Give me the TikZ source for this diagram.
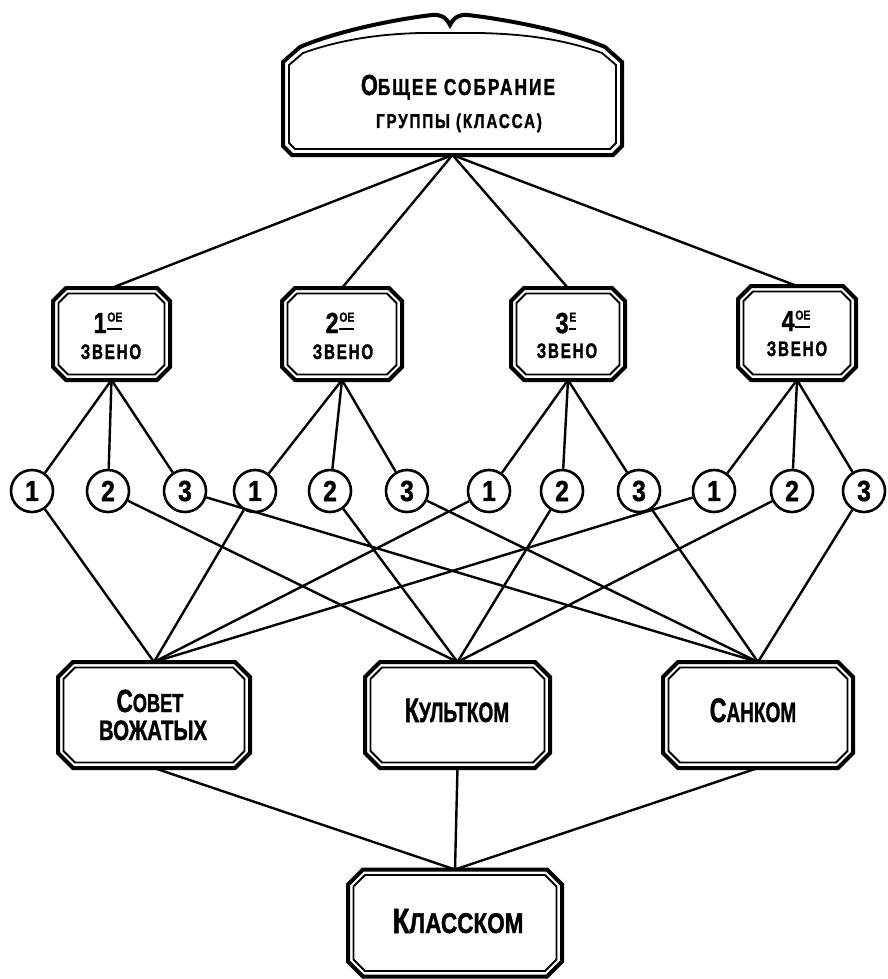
\documentclass[tikz,border=0pt]{standalone}
\usepackage{fontspec}
\usepackage{graphicx}
\setmainfont{Liberation Sans}[FakeBold=1.6]
\newfontfamily\spc{Liberation Sans}[FakeBold=1.6,LetterSpace=12]
\newcommand\szz[1]{\fontsize{#1}{#1}\selectfont}
\newcommand\cnd[2]{\scalebox{#1}[1]{#2}}
\newcommand\ordn[2]{#1\kern1pt\raisebox{3pt}{\vbox{\hbox{\szz{13}#2}\kern6.5pt\hrule height 1.8pt}}}
\newcommand\chfr[2]{%
\draw[outerln] ([shift={(#2,0)}]#1.north west) -- ([shift={(-#2,0)}]#1.north east) -- ([shift={(0,#2)}]#1.north east) -- ([shift={(0,-#2)}]#1.south east) -- ([shift={(-#2,0)}]#1.south east) -- ([shift={(#2,0)}]#1.south west) -- ([shift={(0,-#2)}]#1.south west) -- ([shift={(0,#2)}]#1.north west) -- cycle;
\draw[innerln] ([shift={(#2+2,5.5)}]#1.north west) -- ([shift={(-#2-2,5.5)}]#1.north east) -- ([shift={(-5.5,#2+2)}]#1.north east) -- ([shift={(-5.5,-#2-2)}]#1.south east) -- ([shift={(-#2-2,-5.5)}]#1.south east) -- ([shift={(#2+2,-5.5)}]#1.south west) -- ([shift={(5.5,-#2-2)}]#1.south west) -- ([shift={(5.5,#2+2)}]#1.north west) -- cycle;}
\begin{document}
\begin{tikzpicture}[x=1pt,y=-1pt,
  conn/.style={line width=2.4pt},
  outerln/.style={line width=4pt, line join=miter},
  innerln/.style={line width=1.8pt, line join=miter},
  boxn/.style={rectangle, inner sep=0pt, outer sep=0pt},
  circ/.style={circle, draw, line width=2.6pt, minimum size=42pt, inner sep=0pt, font=\szz{29}\bfseries},
  lbl/.style={anchor=base, inner sep=0pt, font=\bfseries}]
\useasboundingbox (0,0) rectangle (887,979);
% boxes
\node[boxn, minimum width=339pt, minimum height=140pt] (top) at (452.5,85) {};
\node[boxn, minimum width=117pt, minimum height=92pt] (z1) at (111.5,334) {};
\node[boxn, minimum width=120pt, minimum height=92pt] (z2) at (342,334) {};
\node[boxn, minimum width=114pt, minimum height=92pt] (z3) at (568,334) {};
\node[boxn, minimum width=118pt, minimum height=94pt] (z4) at (797,333) {};
\node[boxn, minimum width=192pt, minimum height=106pt] (sov) at (154,715) {};
\node[boxn, minimum width=185pt, minimum height=106pt] (kult) at (457.5,715) {};
\node[boxn, minimum width=190pt, minimum height=106pt] (san) at (758,715) {};
\node[boxn, minimum width=214pt, minimum height=107pt] (kl) at (455,923) {};
% circles
\node[circ] (c11) at (32,491) {\cnd{0.85}{1}};
\node[circ] (c12) at (108,491) {\cnd{0.85}{2}};
\node[circ] (c13) at (185,491) {\cnd{0.85}{3}};
\node[circ] (c21) at (255,491) {\cnd{0.85}{1}};
\node[circ] (c22) at (330,491) {\cnd{0.85}{2}};
\node[circ] (c23) at (407,491) {\cnd{0.85}{3}};
\node[circ] (c31) at (489,491) {\cnd{0.85}{1}};
\node[circ] (c32) at (562,491) {\cnd{0.85}{2}};
\node[circ] (c33) at (639,491) {\cnd{0.85}{3}};
\node[circ] (c41) at (714,491) {\cnd{0.85}{1}};
\node[circ] (c42) at (792,491) {\cnd{0.85}{2}};
\node[circ] (c43) at (864,491) {\cnd{0.85}{3}};
% connectors
\foreach \z in {z1,z2,z3,z4} \draw[conn] (top.south) -- (\z.north);
\foreach \g [count=\i] in {z1,z2,z3,z4} {
  \draw[conn] (\g.south) -- (c\i1);
  \draw[conn] (\g.south) -- (c\i2);
  \draw[conn] (\g.south) -- (c\i3);
  \draw[conn] (c\i1) -- (sov.north);
  \draw[conn] (c\i2) -- (kult.north);
  \draw[conn] (c\i3) -- (san.north);
}
\foreach \b in {sov,kult,san} \draw[conn] (\b.south) -- (kl.north);
% frames
\draw[outerln] (283,62) -- (283,146) -- (292,155) -- (613,155) -- (622,146) -- (622,62) -- (605,47) .. controls (570,32) and (510,20) .. (468,15) .. controls (460,14) and (454,17) .. (450,25) .. controls (446,17) and (440,14) .. (432,15) .. controls (390,20) and (335,32) .. (300,47) -- cycle;
\draw[innerln] (289,65) -- (289,143) -- (295,149) -- (610,149) -- (616,143) -- (616,65) -- (602,53) .. controls (560,38) and (520,34) .. (480,33) -- (420,33) .. controls (385,34) and (345,38) .. (303,53) -- cycle;
\chfr{z1}{13}
\chfr{z2}{13}
\chfr{z3}{13}
\chfr{z4}{13}
\chfr{sov}{15}
\chfr{kult}{15}
\chfr{san}{15}
\chfr{kl}{15}
% texts
\node[lbl] (t1) at (458,95) {\cnd{0.75}{\spc\szz{29}О\szz{23}БЩЕЕ СОБРАНИЕ}};
\node[lbl] (t2) at (459,128) {\cnd{0.76}{\spc\szz{20}ГРУППЫ (КЛАССА)}};
\node[lbl] (o1) at (108,333) {\cnd{0.8}{\szz{29}\ordn{1}{ОЕ}}};
\node[lbl] (o2) at (340,333) {\cnd{0.8}{\szz{29}\ordn{2}{ОЕ}}};
\node[lbl] (o3) at (566,333) {\cnd{0.8}{\szz{29}\ordn{3}{Е}}};
\node[lbl] (o4) at (796,331) {\cnd{0.8}{\szz{29}\ordn{4}{ОЕ}}};
\node[lbl] (w1) at (111,359) {\cnd{0.72}{\spc\szz{21}ЗВЕНО}};
\node[lbl] (w2) at (343,359) {\cnd{0.72}{\spc\szz{21}ЗВЕНО}};
\node[lbl] (w3) at (567,358) {\cnd{0.72}{\spc\szz{21}ЗВЕНО}};
\node[lbl] (w4) at (797,356) {\cnd{0.72}{\spc\szz{21}ЗВЕНО}};
\node[lbl] (s1) at (150,712) {\cnd{0.70}{\szz{32}С\szz{26}ОВЕТ}};
\node[lbl] (s2) at (153,740) {\cnd{0.73}{\szz{28}ВОЖАТЫХ}};
\node[lbl] (k1) at (457,722) {\cnd{0.68}{\szz{34}К\szz{28}УЛЬТКОМ}};
\node[lbl] (n1) at (753,722) {\cnd{0.68}{\szz{34}С\szz{28}АНКОМ}};
\node[lbl] (l1) at (458,933) {\cnd{0.79}{\szz{35}К\szz{28.5}ЛАССКОМ}};
\end{tikzpicture}
\end{document}
